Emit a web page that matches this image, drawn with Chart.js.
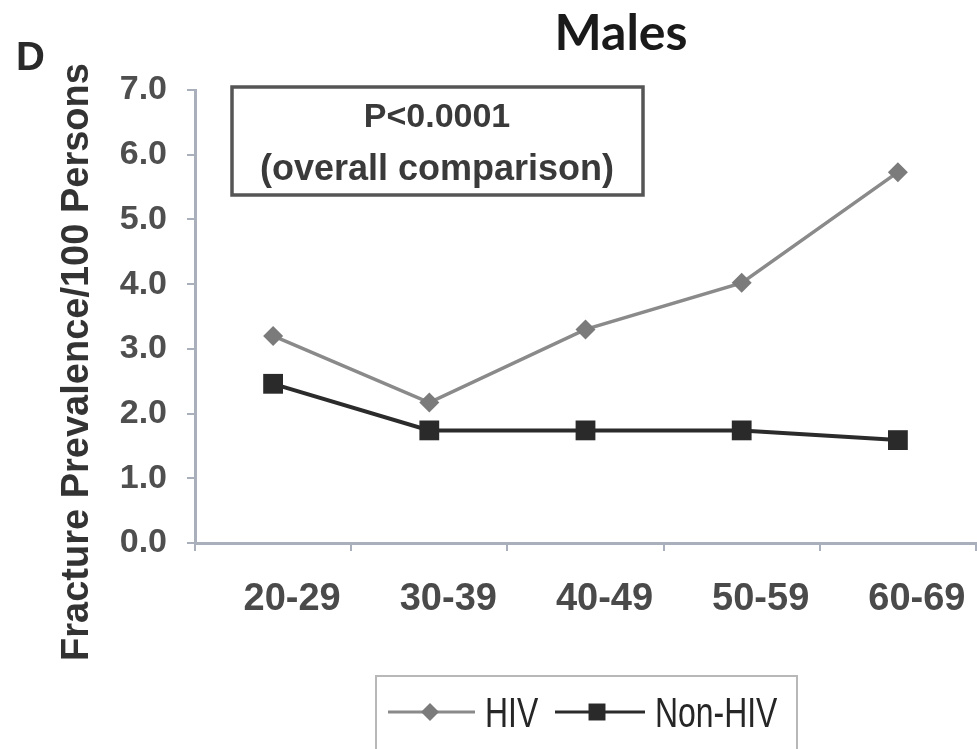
<!DOCTYPE html>
<html>
<head>
<meta charset="utf-8">
<script src="https://cdn.jsdelivr.net/npm/chart.js@4.4.1/dist/chart.umd.min.js"></script>
<style>
  html, body { margin: 0; padding: 0; background: #fff; overflow: hidden; }
  #wrap { width: 990px; height: 749px; }
</style>
</head>
<body>
<div id="wrap"><canvas id="myChart" width="990" height="749"></canvas></div>
<script>
const ageGroups = ["20-29", "30-39", "40-49", "50-59", "60-69"];
const hivValues = [3.2, 2.17, 3.3, 4.02, 5.73];
const nonHivValues = [2.46, 1.74, 1.74, 1.74, 1.59];
const yTicks = [0, 1, 2, 3, 4, 5, 6, 7];

const axisColor = "#a9b0bc";
const hivColor = "#8a8a8a";
const nonHivColor = "#2b2b2b";

// titles, p-value box, axis title and legend
const extras = {
  id: "extras",
  afterDraw(chart) {
    const ctx = chart.ctx;
    ctx.save();
    ctx.fillStyle = "#2a2a2a";
    ctx.font = "bold 40px 'Liberation Sans', Arial";
    ctx.textAlign = "left";
    ctx.textBaseline = "alphabetic";
    ctx.fillText("D", 16, 70);

    ctx.font = "bold 50px Lato";
    ctx.textAlign = "center";
    ctx.fillStyle = "#1a1a1a";
    ctx.fillText("Males", 621, 50);

    // y title
    ctx.save();
    ctx.translate(88, 362);
    ctx.rotate(-Math.PI / 2);
    ctx.font = "bold 38px 'Liberation Sans', Arial";
    ctx.fillStyle = "#333";
    ctx.textAlign = "center";
    ctx.fillText("Fracture Prevalence/100 Persons", 0, 0);
    ctx.restore();

    // p-value box
    ctx.strokeStyle = "#555";
    ctx.lineWidth = 3.5;
    ctx.strokeRect(232, 87, 411, 108);
    ctx.fillStyle = "#3a3a3a";
    ctx.font = "bold 34px 'Liberation Sans', Arial";
    ctx.fillText("P<0.0001", 437, 127);
    ctx.font = "bold 36px 'Liberation Sans', Arial";
    ctx.fillText("(overall comparison)", 437, 180);

    // legend
    ctx.strokeStyle = "#b8b8b8";
    ctx.lineWidth = 2;
    ctx.strokeRect(376, 676, 421, 90);
    const items = [
      { x0: 388, x1: 475, mx: 430, tx: 485, ds: chart.data.datasets[0], r: 9 },
      { x0: 555, x1: 645, mx: 597, tx: 655, ds: chart.data.datasets[1], r: 12 }
    ];
    const ly = 712;
    items.forEach((it) => {
      ctx.strokeStyle = it.ds.borderColor;
      ctx.lineWidth = 3;
      ctx.beginPath();
      ctx.moveTo(it.x0, ly);
      ctx.lineTo(it.x1, ly);
      ctx.stroke();
      ctx.fillStyle = it.ds.pointBackgroundColor;
      Chart.helpers.drawPoint(ctx, { pointStyle: it.ds.pointStyle, radius: it.r, borderWidth: 0 }, it.mx, ly);
      ctx.save();
      ctx.translate(it.tx, ly + 15);
      ctx.scale(0.76, 1);
      ctx.font = "42px 'Liberation Sans', Arial";
      ctx.fillStyle = "#262626";
      ctx.textAlign = "left";
      ctx.fillText(it.ds.label, 0, 0);
      ctx.restore();
    });
    ctx.restore();
  }
};

new Chart(document.getElementById("myChart"), {
  type: "line",
  data: {
    labels: ageGroups,
    datasets: [
      {
        label: "HIV",
        data: hivValues,
        borderColor: hivColor,
        borderWidth: 3.5,
        pointStyle: "rectRot",
        pointRadius: 10,
        pointBackgroundColor: "#7b7b7b",
        pointBorderWidth: 0,
        tension: 0
      },
      {
        label: "Non-HIV",
        data: nonHivValues,
        borderColor: nonHivColor,
        borderWidth: 4,
        pointStyle: "rect",
        pointRadius: 14,
        pointBackgroundColor: "#2a2a2a",
        pointBorderWidth: 0,
        tension: 0
      }
    ]
  },
  options: {
    responsive: false,
    animation: false,
    layout: { padding: { top: 90, right: 5, bottom: 106, left: 0 } },
    plugins: { legend: { display: false }, tooltip: { enabled: false } },
    scales: {
      x: {
        offset: true,
        grid: { offset: true, drawOnChartArea: false, tickLength: 8, color: axisColor, lineWidth: 2 },
        border: { color: axisColor, width: 3 },
        ticks: {
          color: "#4a4a4a",
          font: { family: "'Liberation Sans', Arial", size: 38, weight: "bold" },
          padding: 26,
          labelOffset: 19,
          maxRotation: 0
        },
        afterFit(scale) { scale.height = 100; }
      },
      y: {
        min: 0,
        max: 7,
        afterBuildTicks(scale) { scale.ticks = yTicks.map((v) => ({ value: v })); },
        grid: { drawOnChartArea: false, tickLength: 8, color: axisColor, lineWidth: 2 },
        border: { color: axisColor, width: 3 },
        ticks: {
          color: "#4f4f4f",
          font: { family: "'Liberation Sans', Arial", size: 34, weight: "bold" },
          padding: 20,
          callback: (v) => Number(v).toFixed(1)
        },
        afterFit(scale) { scale.width = 195; }
      }
    }
  },
  plugins: [extras]
});
</script>
</body>
</html>
